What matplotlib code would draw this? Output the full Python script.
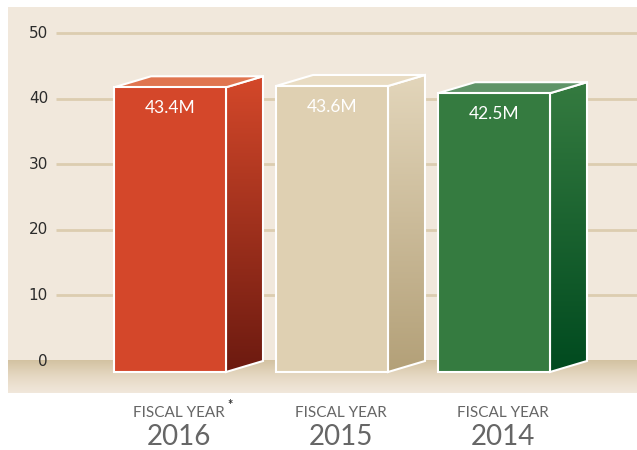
import numpy as np
import matplotlib
matplotlib.use("Agg")
import matplotlib.pyplot as plt
from matplotlib.patches import Polygon, Rectangle
from matplotlib.colors import LinearSegmentedColormap

# ---- data ----
years = ["2016", "2015", "2014"]
top_labels = ["FISCAL YEAR", "FISCAL YEAR", "FISCAL YEAR"]
asterisk = [True, False, False]
values = [43.4, 43.6, 42.5]
value_labels = ["43.4M", "43.6M", "42.5M"]
yticks = [0, 10, 20, 30, 40, 50]

front_colors = ["#d4472a", "#dfd0b2", "#357b40"]
top_colors = ["#e07550", "#e9dcc3", "#5f9468"]
side_top = ["#d4482a", "#e3d6bb", "#357b40"]
side_bot = ["#6c1a10", "#b3a078", "#004a1f"]
value_text_colors = ["white", "white", "white"]

FONT = ["Lato", "DejaVu Sans"]

# ---- layout (pixels) ----
W, H = 637, 450
fig = plt.figure(figsize=(W / 100, H / 100), dpi=100)
ax = fig.add_axes([0, 0, 1, 1])
ax.set_axis_off()

px_per_unit = 6.56         # vertical
y0_px = 361                # pixel row of value 0
x0_px, x_step = 170, 162   # pixel column of first front centre, spacing

def py(p):  # pixel row -> data y
    return (y0_px - p) / px_per_unit

def px(p):  # pixel column -> data x
    return (p - x0_px) / x_step

ax.set_xlim(px(0), px(W))
ax.set_ylim(py(H), py(0))

# panel background
panel_l, panel_r, panel_t, panel_b = px(8), px(W), py(7), py(393)
ax.add_patch(Rectangle((panel_l, panel_b), panel_r - panel_l, panel_t - panel_b,
                       facecolor="#f1e8dc", edgecolor="none", zorder=0))

# floor gradient band
floor_top = py(360)
floor_cmap = LinearSegmentedColormap.from_list("floor", ["#d3c2a1", "#e6d9c4", "#f1e8dc"])
grad = np.linspace(0, 1, 256).reshape(-1, 1)
ax.imshow(grad, cmap=floor_cmap, aspect="auto",
          extent=(panel_l, panel_r, panel_b, floor_top), origin="upper", zorder=1)

# gridlines
grid_l = px(56)
for t in yticks[1:]:
    ax.plot([grid_l, panel_r], [t, t], color="#dccdb0", lw=2, zorder=1, solid_capstyle="butt")
for t in yticks:
    ax.text(px(48), t, str(t), ha="right", va="center", fontsize=11,
            color="#2b2b2b", family=["DejaVu Sans"], zorder=2)

# bars
w = 112 / x_step
dx = 37 / x_step
dy = 11 / px_per_unit
lab_shift = 9 / x_step
for i, v in enumerate(values):
    xl, xr = i - w / 2, i + w / 2
    # side face with gradient
    side = [(xr, -dy), (xr + dx, 0), (xr + dx, v), (xr, v - dy)]
    cm = LinearSegmentedColormap.from_list(f"s{i}", [side_top[i], side_bot[i]])
    im = ax.imshow(grad, cmap=cm, aspect="auto",
                   extent=(xr, xr + dx, -dy, v), origin="upper", zorder=3)
    sp = Polygon(side, closed=True, facecolor="none", edgecolor="white", lw=1.5, zorder=4)
    ax.add_patch(sp)
    im.set_clip_path(sp)
    # top face
    ax.add_patch(Polygon([(xl, v - dy), (xr, v - dy), (xr + dx, v), (xl + dx, v)],
                         closed=True, facecolor=top_colors[i], edgecolor="white",
                         lw=1.5, zorder=4))
    # front face
    ax.add_patch(Rectangle((xl, -dy), w, v, facecolor=front_colors[i],
                           edgecolor="white", lw=1.5, zorder=5))
    ax.annotate(value_labels[i], (i, v - dy), xytext=(0, -15), textcoords="offset points",
                ha="center", va="center", fontsize=12.5, color=value_text_colors[i],
                family=FONT, zorder=6)
    # bottom labels
    cx = i + lab_shift
    ax.text(cx, py(413), top_labels[i], ha="center", va="center", fontsize=11,
            color="#666666", family=FONT, zorder=6)
    if asterisk[i]:
        ax.text(cx + 0.315, py(405), "*", ha="center", va="center", fontsize=9,
                color="#333333", family=FONT, fontweight="bold", zorder=6)
    ax.text(cx, py(437), years[i], ha="center", va="center", fontsize=20,
            color="#666666", family=FONT, zorder=6)

fig.savefig("out.png", dpi=100, facecolor="white")
